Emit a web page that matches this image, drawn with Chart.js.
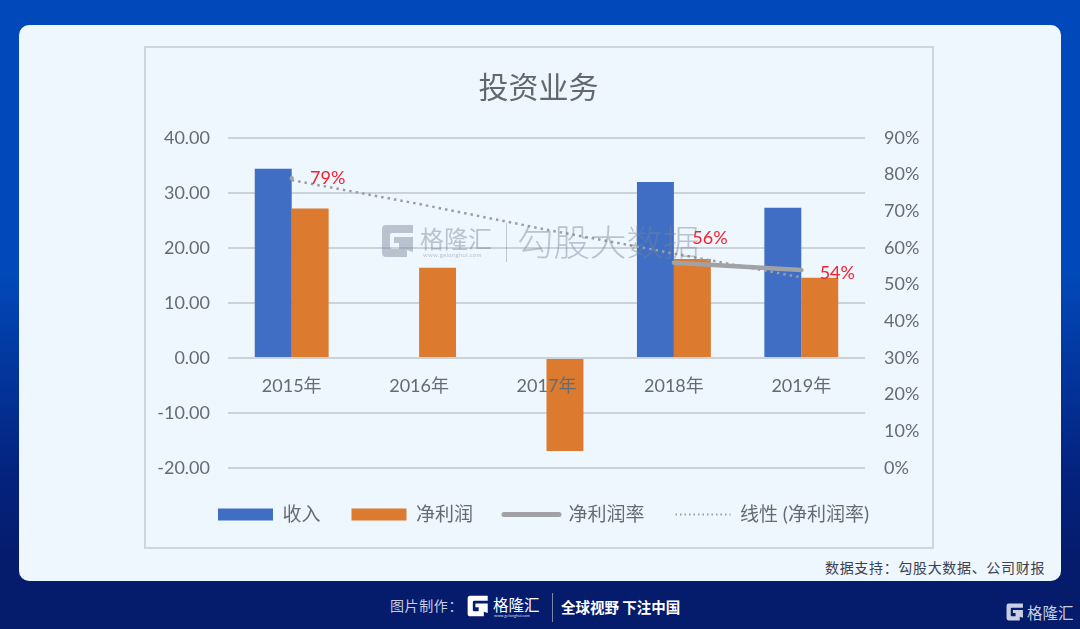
<!DOCTYPE html>
<html lang="zh">
<head>
<meta charset="utf-8">
<title>投资业务</title>
<script src="https://cdn.jsdelivr.net/npm/chart.js@4"></script>
<style>
  html, body { margin: 0; padding: 0; }
  body {
    width: 1080px; height: 629px; overflow: hidden; position: relative;
    background: linear-gradient(180deg, #0149ba 0, #0149ba 270px, #04237f 470px, #051b6c 560px, #051b6c 629px);
    font-family: "Noto Sans CJK SC", sans-serif;
  }
  .abs { position: absolute; white-space: nowrap; }
  #card { left: 19px; top: 25px; width: 1042px; height: 556px; background: #eef6fe; border-radius: 10px; }
  #frame { left: 144px; top: 46px; width: 786px; height: 499px; border: 2px solid #ced5dd; }
  #wrap { left: 145px; top: 47px; width: 787px; height: 500px; }
  #source { left: 825px; top: 557px; font-size: 14px; line-height: 20px; color: #3b4250; letter-spacing: 0.67px; }
  .wm { color: rgba(120,130,150,0.45); }
  .logo { display: block; }
</style>
</head>
<body>
<div class="abs" id="card"></div>
<div class="abs" id="frame"></div>
<div class="abs" id="wrap"><canvas id="investChart" width="787" height="500"></canvas></div>

<!-- 水印 -->
<svg class="abs logo" style="left:381px;top:224px" width="34" height="34" viewBox="0 0 34 34"><path fill="rgba(120,130,150,0.45)" d="M5 1h27v8H11q-2 0-2 2v12q0 2 2 2h7v-6h-5v-6h19v15l-6-2v7H5q-4 0-4-4V5q0-4 4-4z"/></svg>
<div class="abs wm" style="left:420px;top:223px;font-size:24px;line-height:30px;">格隆汇</div>
<div class="abs wm" style="left:423px;top:251px;font-size:6px;line-height:8px;letter-spacing:0.3px;font-family:Lato;">www.gelonghui.com</div>
<div class="abs" style="left:506px;top:223px;width:1px;height:39px;background:rgba(120,130,150,0.4);"></div>
<div class="abs wm" style="left:517px;top:217px;font-size:36.5px;line-height:48px;font-weight:300;">勾股大数据</div>

<div class="abs" id="source">数据支持：勾股大数据、公司财报</div>

<!-- 底部 -->
<div class="abs" style="left:390px;top:595px;font-size:14px;line-height:20px;color:#c6cde0;letter-spacing:0.6px;">图片制作：</div>
<svg class="abs logo" style="left:467px;top:595px" width="22" height="22" viewBox="0 0 34 34"><path fill="#fff" d="M5 1h27v8H11q-2 0-2 2v12q0 2 2 2h7v-6h-5v-6h19v15l-6-2v7H5q-4 0-4-4V5q0-4 4-4z"/></svg>
<div class="abs" style="left:493px;top:594px;font-size:15.5px;line-height:20px;color:#fff;">格隆汇</div>
<div class="abs" style="left:494px;top:613px;font-size:4px;line-height:5px;color:#d6dcec;font-family:Lato;">www.gelonghui.com</div>
<div class="abs" style="left:552px;top:593px;width:1px;height:29px;background:#7b86ad;"></div>
<div class="abs" style="left:561px;top:597px;font-size:14.5px;line-height:20px;color:#fff;font-weight:700;">全球视野 下注中国</div>

<svg class="abs logo" style="left:1006px;top:603px" width="18" height="18" viewBox="0 0 34 34"><path fill="#c9cfe2" d="M5 1h27v8H11q-2 0-2 2v12q0 2 2 2h7v-6h-5v-6h19v15l-6-2v7H5q-4 0-4-4V5q0-4 4-4z"/></svg>
<div class="abs" style="left:1027px;top:602px;font-size:15.5px;line-height:20px;color:#c9cfe2;">格隆汇</div>

<script>
const FONT = '"Lato", "Noto Sans CJK SC", sans-serif';

const years = ['2015年', '2016年', '2017年', '2018年', '2019年'];
const revenue = [34.4, null, null, 32.0, 27.3];
const netProfit = [27.2, 16.4, -16.9, 18.0, 14.6];
const netMargin = [79, null, null, 56, 54];
const marginTrend = [78.5, 72, 65, 58.5, 52];
const leftTicks = [-20, -10, 0, 10, 20, 30, 40];
const rightTicks = [0, 10, 20, 30, 40, 50, 60, 70, 80, 90];

// 标签相对数据点的偏移
const labelShift = { x: 36, y: [0, 0, 0, -24, 3] };

const marginLabels = {
  id: 'marginLabels',
  afterDatasetsDraw(chart) {
    const meta = chart.getDatasetMeta(2);
    const ctx = chart.ctx;
    ctx.save();
    ctx.font = '18px ' + FONT;
    ctx.fillStyle = '#f5222d';
    ctx.textAlign = 'center';
    ctx.textBaseline = 'middle';
    netMargin.forEach((v, i) => {
      if (v === null) return;
      const p = meta.data[i];
      ctx.fillText(v + '%', p.x + labelShift.x, chart.scales.y1.getPixelForValue(v) + labelShift.y[i]);
    });
    ctx.restore();
  }
};

// 图例不在标题的中轴上,整体右移并下移
const legendShift = {
  id: 'legendShift',
  afterLayout(chart) {
    chart.legend.left += 5;
    chart.legend.right += 5;
    chart.legend.top += 6;
    chart.legend.bottom += 6;
  }
};

new Chart(document.getElementById('investChart').getContext('2d'), {
  type: 'bar',
  data: {
    labels: years,
    datasets: [
      { label: '收入', data: revenue, backgroundColor: '#3f6ec4', borderWidth: 0, yAxisID: 'y', order: 2 },
      { label: '净利润', data: netProfit, backgroundColor: '#dc7a30', borderWidth: 0, yAxisID: 'y', order: 2 },
      { type: 'line', label: '净利润率', data: netMargin, borderColor: '#a0a2a5', backgroundColor: '#a0a2a5', borderWidth: 4.5, borderCapStyle: 'round', pointRadius: 0, yAxisID: 'y1', order: 0 },
      { type: 'line', label: '线性 (净利润率)', data: marginTrend, borderColor: '#9a9fa6', backgroundColor: '#9a9fa6', borderWidth: 2.5, borderDash: [2.5, 4], pointRadius: 0, yAxisID: 'y1', order: 1 }
    ]
  },
  options: {
    responsive: false,
    animation: false,
    layout: { padding: { top: 0, bottom: 19, left: 0, right: 0 } },
    datasets: { bar: { categoryPercentage: 0.58, barPercentage: 1 } },
    plugins: {
      tooltip: { enabled: false },
      title: {
        display: true,
        text: '投资业务',
        color: '#63686f',
        font: { family: '"Noto Sans CJK SC", sans-serif', size: 30, weight: 400 },
        padding: { top: 22, bottom: 33 }
      },
      legend: {
        position: 'bottom',
        labels: {
          usePointStyle: true,
          pointStyleWidth: 55,
          boxHeight: 12,
          padding: 31,
          color: '#666b72',
          font: { family: FONT, size: 19 },
          generateLabels: chart => chart.data.datasets.map((d, i) => ({
            text: d.label,
            fontColor: '#666b72',
            datasetIndex: i,
            fillStyle: d.backgroundColor,
            strokeStyle: d.borderColor || d.backgroundColor,
            lineWidth: d.type === 'line' ? (i === 2 ? 5 : 2) : 0,
            lineDash: d.borderDash ? [1.5, 3] : [],
            lineCap: d.borderCapStyle || 'butt',
            pointStyle: d.type === 'line' ? 'line' : 'rect',
            hidden: false
          }))
        }
      }
    },
    scales: {
      x: {
        position: { y: 0 },
        grid: { display: false },
        border: { display: false },
        ticks: { z: 1, color: '#666b72', padding: 9, maxRotation: 0, font: { family: FONT, size: 18 } }
      },
      y: {
        position: 'left',
        min: -20, max: 40,
        afterFit: s => { s.width = 83; },
        afterBuildTicks: s => { s.ticks = leftTicks.map(v => ({ value: v })); },
        grid: { color: '#cbd2da', lineWidth: 2, drawTicks: false },
        border: { display: false },
        ticks: { color: '#666b72', padding: 18, font: { family: FONT, size: 18 }, callback: v => v.toFixed(2) }
      },
      y1: {
        position: 'right',
        min: 0, max: 90,
        afterFit: s => { s.width = 67; },
        afterBuildTicks: s => { s.ticks = rightTicks.map(v => ({ value: v })); },
        grid: { display: false, drawTicks: false },
        border: { display: false },
        ticks: { color: '#666b72', padding: 19, font: { family: FONT, size: 18 }, callback: v => v + '%' }
      }
    }
  },
  plugins: [marginLabels, legendShift]
});
</script>
</body>
</html>
